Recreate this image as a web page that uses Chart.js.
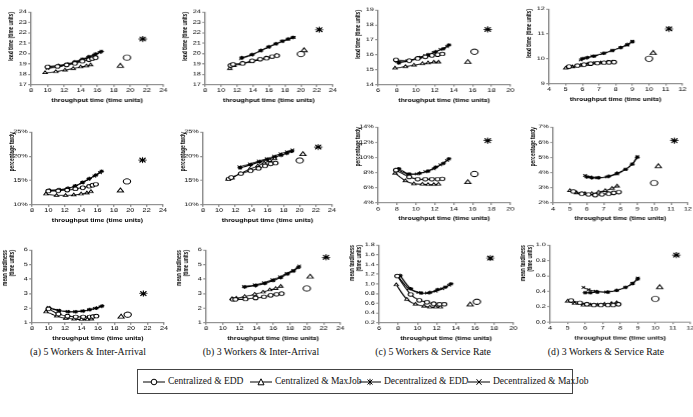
<!DOCTYPE html>
<html>
<head>
<meta charset="utf-8">
<script src="https://cdn.jsdelivr.net/npm/chart.js@4.4.1/dist/chart.umd.min.js"></script>
<style>
  body { margin: 0; background: #fff; width: 693px; height: 417px; overflow: hidden; position: relative; font-family: "Liberation Serif", serif; }
  .panel { position: absolute; transform-origin: 0 0; transform: scaleX(1.4); }
  .cap { position: absolute; top: 346px; font-size: 9.8px; line-height: 12px; white-space: nowrap; transform: translateX(-50%); color: #111; }
  .legend { position: absolute; left: 137px; top: 369px; width: 436px; height: 25px; border: 1px solid #444; box-sizing: border-box; }
  .item { position: absolute; top: 6px; font-size: 9.5px; line-height: 11px; display: flex; align-items: center; white-space: nowrap; color: #111; }
  .item svg { margin-right: 3px; }
</style>
</head>
<body>
<div class="cap" style="left:88px">(a) 5 Workers &amp; Inter-Arrival</div>
<div class="cap" style="left:261px">(b) 3 Workers &amp; Inter-Arrival</div>
<div class="cap" style="left:433px">(c) 5 Workers &amp; Service Rate</div>
<div class="cap" style="left:606px">(d) 3 Workers &amp; Service Rate</div>

<div class="legend">
  <div class="item" style="left:5px">
    <svg width="22" height="8"><line x1="0" y1="4" x2="22" y2="4" stroke="#000"/><circle cx="11" cy="4" r="2.8" fill="#fff" stroke="#000"/></svg>
    <span>Centralized &amp; EDD</span></div>
  <div class="item" style="left:112px">
    <svg width="22" height="8"><line x1="0" y1="4" x2="22" y2="4" stroke="#000"/><polygon points="11,0.8 14,6.8 8,6.8" fill="#fff" stroke="#000"/></svg>
    <span>Centralized &amp; MaxJob</span></div>
  <div class="item" style="left:221px">
    <svg width="22" height="8"><line x1="0" y1="4" x2="22" y2="4" stroke="#000"/><path d="M11 0.8V7.2M8.5 1.5L13.5 6.5M13.5 1.5L8.5 6.5" stroke="#000"/></svg>
    <span>Decentralized &amp; EDD</span></div>
  <div class="item" style="left:330px">
    <svg width="22" height="8"><line x1="0" y1="4" x2="22" y2="4" stroke="#000"/><path d="M8.5 1.2L13.5 6.8M13.5 1.2L8.5 6.8" stroke="#000"/></svg>
    <span>Decentralized &amp; MaxJob</span></div>
</div>

<script>
// throughput time (x) of each configuration, per column (a)-(d)
// series order: centralized EDD, centralized MaxJob, decentralized EDD, decentralized MaxJob
const tpA_cEdd = [10.0, 11.2, 12.3, 13.3, 14.2, 15.0, 15.4, 15.8];
const tpA_cMax = [9.7, 11.0, 12.1, 13.1, 14.0, 14.7, 15.2];
const tpA_dEdd = [10.1, 11.3, 12.4, 13.3, 14.2, 15.0, 15.8, 16.5];
const tpA_dMax = [10.0, 11.2, 12.3, 13.2, 14.1, 14.9, 15.6, 16.3];
const tpA_iso = [19.6, 18.8, 21.5, 21.5];

const tpB_cEdd = [11.2, 11.5, 12.7, 13.9, 14.9, 15.7, 16.4, 17.0];
const tpB_cMax = [11.1, 11.6, 12.6, 13.8, 14.8, 15.6, 16.3, 16.9];
const tpB_dEdd = [12.6, 13.9, 15.0, 16.0, 16.9, 17.7, 18.4, 19.0];
const tpB_dMax = [12.5, 13.8, 14.9, 15.9, 16.8, 17.6, 18.4, 19.1];
const tpB_iso = [20.0, 20.4, 22.3, 22.3];

const tpC_cEdd = [7.9, 9.3, 10.2, 11.0, 11.7, 12.3, 12.8];
const tpC_cMax = [7.8, 8.9, 9.8, 10.7, 11.3, 11.9, 12.4];
const tpC_dEdd = [8.2, 9.3, 10.4, 11.3, 12.1, 12.9, 13.5];
const tpC_dMax = [8.0, 9.1, 10.1, 11.0, 11.9, 12.6, 13.3];
const tpC_iso = [16.2, 15.5, 17.6, 17.6];

const tpD_cEdd = [5.2, 5.7, 6.1, 6.5, 6.9, 7.3, 7.6, 7.9];
const tpD_cMax = [5.0, 5.4, 5.9, 6.3, 6.7, 7.1, 7.5, 7.8];
const tpD_dEdd = [6.0, 6.3, 6.7, 7.3, 7.8, 8.3, 8.7, 9.0];
const tpD_dMax = [5.9, 6.2, 6.6, 7.2, 7.8, 8.3, 8.7, 9.0];
const tpD_iso = [10.0, 10.25, 11.2, 11.2];

// lead time
const leadA_cEdd = [18.7, 18.75, 18.9, 19.05, 19.25, 19.4, 19.5, 19.6];
const leadA_cMax = [18.15, 18.25, 18.4, 18.55, 18.7, 18.8, 18.9];
const leadA_dEdd = [18.75, 18.85, 19.0, 19.2, 19.45, 19.7, 19.95, 20.2];
const leadA_dMax = [18.55, 18.7, 18.9, 19.1, 19.35, 19.6, 19.85, 20.1];
const leadA_iso = [19.6, 18.8, 21.4, 21.4];

const leadB_cEdd = [18.85, 18.95, 19.05, 19.3, 19.45, 19.55, 19.7, 19.8];
const leadB_cMax = [18.55, 18.85, 19.0, 19.2, 19.4, 19.55, 19.65, 19.8];
const leadB_dEdd = [19.6, 19.9, 20.3, 20.65, 20.95, 21.2, 21.4, 21.55];
const leadB_dMax = [19.5, 19.85, 20.25, 20.6, 20.9, 21.15, 21.35, 21.55];
const leadB_iso = [19.95, 20.3, 22.3, 22.3];

const leadC_cEdd = [15.65, 15.6, 15.75, 15.85, 15.95, 16.0, 16.05];
const leadC_cMax = [15.1, 15.2, 15.3, 15.4, 15.45, 15.5, 15.5];
const leadC_dEdd = [15.45, 15.6, 15.8, 16.0, 16.2, 16.4, 16.65];
const leadC_dMax = [15.55, 15.6, 15.75, 15.95, 16.15, 16.35, 16.55];
const leadC_iso = [16.2, 15.5, 17.7, 17.7];

const leadD_cEdd = [9.68, 9.72, 9.76, 9.8, 9.82, 9.84, 9.85, 9.86];
const leadD_cMax = [9.62, 9.67, 9.73, 9.77, 9.81, 9.83, 9.85, 9.86];
const leadD_dEdd = [10.0, 10.05, 10.1, 10.22, 10.33, 10.45, 10.57, 10.68];
const leadD_dMax = [9.95, 10.02, 10.1, 10.2, 10.33, 10.45, 10.55, 10.7];
const leadD_iso = [10.0, 10.22, 11.2, 11.2];

// percentage tardy (%)
const pctA_cEdd = [12.8, 12.85, 13.0, 13.25, 13.5, 13.8, 14.0, 14.2];
const pctA_cMax = [12.2, 11.9, 11.9, 12.0, 12.2, 12.4, 12.7];
const pctA_dEdd = [13.0, 13.1, 13.4, 13.9, 14.6, 15.4, 16.1, 16.9];
const pctA_dMax = [12.9, 13.0, 13.3, 13.8, 14.5, 15.2, 15.9, 16.6];
const pctA_iso = [14.8, 12.9, 19.2, 19.2];

const pctB_cEdd = [15.3, 15.6, 16.4, 17.0, 17.5, 18.0, 18.4, 18.6];
const pctB_cMax = [15.2, 15.5, 16.4, 17.3, 18.0, 18.6, 19.1, 19.5];
const pctB_dEdd = [17.6, 18.2, 18.8, 19.3, 19.8, 20.2, 20.6, 21.0];
const pctB_dMax = [17.8, 18.4, 19.0, 19.5, 20.0, 20.5, 20.9, 21.3];
const pctB_iso = [19.1, 20.4, 21.9, 21.9];

const pctC_cEdd = [8.3, 7.4, 7.1, 7.1, 7.1, 7.1, 7.15];
const pctC_cMax = [7.9, 6.9, 6.5, 6.45, 6.4, 6.4, 6.45];
const pctC_dEdd = [8.5, 7.8, 7.9, 8.2, 8.7, 9.2, 9.8];
const pctC_dMax = [8.4, 7.8, 7.8, 8.1, 8.5, 9.0, 9.6];
const pctC_iso = [7.8, 6.7, 12.2, 12.2];

const pctD_cEdd = [2.75, 2.6, 2.55, 2.5, 2.55, 2.6, 2.65, 2.7];
const pctD_cMax = [2.8, 2.65, 2.6, 2.6, 2.7, 2.8, 2.95, 3.1];
const pctD_dEdd = [3.7, 3.65, 3.65, 3.75, 3.95, 4.2, 4.55, 5.0];
const pctD_dMax = [3.8, 3.7, 3.65, 3.7, 3.9, 4.2, 4.55, 5.05];
const pctD_iso = [3.3, 4.4, 6.1, 6.1];

// mean tardiness
const tardA_cEdd = [1.95, 1.6, 1.45, 1.4, 1.4, 1.4, 1.42, 1.45];
const tardA_cMax = [1.75, 1.45, 1.3, 1.25, 1.22, 1.22, 1.25];
const tardA_dEdd = [2.0, 1.82, 1.75, 1.75, 1.8, 1.9, 2.0, 2.15];
const tardA_dMax = [2.05, 1.85, 1.77, 1.76, 1.8, 1.88, 1.98, 2.1];
const tardA_iso = [1.55, 1.4, 3.0, 3.0];

const tardB_cEdd = [2.6, 2.6, 2.62, 2.7, 2.78, 2.88, 2.95, 3.0];
const tardB_cMax = [2.65, 2.68, 2.8, 2.95, 3.1, 3.25, 3.35, 3.5];
const tardB_dEdd = [3.45, 3.55, 3.7, 3.9, 4.1, 4.35, 4.55, 4.8];
const tardB_dMax = [3.5, 3.6, 3.75, 3.95, 4.15, 4.4, 4.6, 4.9];
const tardB_iso = [3.35, 4.15, 5.5, 5.5];

const tardC_cEdd = [1.16, 0.78, 0.66, 0.62, 0.59, 0.58, 0.58];
const tardC_cMax = [0.98, 0.68, 0.58, 0.54, 0.52, 0.52, 0.52];
const tardC_dEdd = [1.17, 0.9, 0.81, 0.82, 0.88, 0.93, 1.0];
const tardC_dMax = [1.15, 0.9, 0.82, 0.81, 0.85, 0.9, 0.97];
const tardC_iso = [0.63, 0.57, 1.53, 1.53];

const tardD_cEdd = [0.28, 0.25, 0.23, 0.22, 0.22, 0.22, 0.22, 0.23];
const tardD_cMax = [0.27, 0.24, 0.22, 0.22, 0.22, 0.23, 0.24, 0.25];
const tardD_dEdd = [0.38, 0.38, 0.39, 0.39, 0.41, 0.45, 0.5, 0.56];
const tardD_dMax = [0.45, 0.42, 0.4, 0.39, 0.41, 0.45, 0.5, 0.57];
const tardD_iso = [0.3, 0.45, 0.87, 0.87];

const leadTitle = 'lead time (time units)';
const pctTitle = 'percentage tardy';
const tardTitle = ['mean tardiness', '(time units)'];

const S = 1.4;          // the panels are stretched horizontally
const FONT = 'Liberation Sans';

const seriesStyle = [
    { pointStyle: 'circle', fill: '#fff' },
    { pointStyle: 'triangle', fill: '#fff' },
    { pointStyle: 'star', fill: '#000' },
    { pointStyle: 'crossRot', fill: '#000' }
];

const colA = [tpA_cEdd, tpA_cMax, tpA_dEdd, tpA_dMax];
const colB = [tpB_cEdd, tpB_cMax, tpB_dEdd, tpB_dMax];
const colC = [tpC_cEdd, tpC_cMax, tpC_dEdd, tpC_dMax];
const colD = [tpD_cEdd, tpD_cMax, tpD_dEdd, tpD_dMax];

const panels = [
    { box: [31, 12, 163, 84], x: colA, xi: tpA_iso, y: [leadA_cEdd, leadA_cMax, leadA_dEdd, leadA_dMax], yi: leadA_iso, xr: [8, 24, 2], yr: [17, 24, 1], title: leadTitle, fmt: 'int' },
    { box: [205, 12, 332, 84], x: colB, xi: tpB_iso, y: [leadB_cEdd, leadB_cMax, leadB_dEdd, leadB_dMax], yi: leadB_iso, xr: [8, 24, 2], yr: [17, 24, 1], title: leadTitle, fmt: 'int' },
    { box: [378, 10, 510, 84], x: colC, xi: tpC_iso, y: [leadC_cEdd, leadC_cMax, leadC_dEdd, leadC_dMax], yi: leadC_iso, xr: [6, 20, 2], yr: [14, 19, 1], title: leadTitle, fmt: 'int' },
    { box: [549, 9, 682, 83], x: colD, xi: tpD_iso, y: [leadD_cEdd, leadD_cMax, leadD_dEdd, leadD_dMax], yi: leadD_iso, xr: [4, 12, 1], yr: [9, 12, 1], title: leadTitle, fmt: 'int' },

    { box: [32, 132, 163, 204], x: colA, xi: tpA_iso, y: [pctA_cEdd, pctA_cMax, pctA_dEdd, pctA_dMax], yi: pctA_iso, xr: [8, 24, 2], yr: [10, 25, 5], title: pctTitle, fmt: 'pct' },
    { box: [203, 132, 332, 204], x: colB, xi: tpB_iso, y: [pctB_cEdd, pctB_cMax, pctB_dEdd, pctB_dMax], yi: pctB_iso, xr: [8, 24, 2], yr: [10, 25, 5], title: pctTitle, fmt: 'pct' },
    { box: [378, 127, 510, 202], x: colC, xi: tpC_iso, y: [pctC_cEdd, pctC_cMax, pctC_dEdd, pctC_dMax], yi: pctC_iso, xr: [6, 20, 2], yr: [4, 14, 2], title: pctTitle, fmt: 'pct' },
    { box: [553, 127, 687, 202], x: colD, xi: tpD_iso, y: [pctD_cEdd, pctD_cMax, pctD_dEdd, pctD_dMax], yi: pctD_iso, xr: [4, 12, 1], yr: [2, 7, 1], title: pctTitle, fmt: 'pct' },

    { box: [32, 250, 164, 322], x: colA, xi: tpA_iso, y: [tardA_cEdd, tardA_cMax, tardA_dEdd, tardA_dMax], yi: tardA_iso, xr: [8, 24, 2], yr: [1, 6, 1], title: tardTitle, fmt: 'int' },
    { box: [206, 250, 340, 322], x: colB, xi: tpB_iso, y: [tardB_cEdd, tardB_cMax, tardB_dEdd, tardB_dMax], yi: tardB_iso, xr: [8, 24, 2], yr: [1, 6, 1], title: tardTitle, fmt: 'int' },
    { box: [379, 245, 513, 322], x: colC, xi: tpC_iso, y: [tardC_cEdd, tardC_cMax, tardC_dEdd, tardC_dMax], yi: tardC_iso, xr: [6, 20, 2], yr: [0.2, 1.8, 0.2], title: tardTitle, fmt: 'dec' },
    { box: [550, 245, 690, 321], x: colD, xi: tpD_iso, y: [tardD_cEdd, tardD_cMax, tardD_dEdd, tardD_dMax], yi: tardD_iso, xr: [4, 12, 1], yr: [0, 1, 0.2], title: tardTitle, fmt: 'dec' }
];

function formatTick(fmt, v) {
    if (fmt === 'pct') return Math.round(v) + '%';
    if (fmt === 'dec') return v.toFixed(1);
    return String(Math.round(v));
}

function buildDatasets(p) {
    return p.x.map((xs, s) => {
        const data = xs.map((xv, i) => ({ x: xv, y: p.y[s][i] }));
        // break the line, then the lone point of this series
        data.push({ x: p.xi[s], y: null });
        data.push({ x: p.xi[s], y: p.yi[s] });
        const last = data.length - 1;
        return {
            data: data,
            borderColor: '#000',
            borderWidth: 0.9,
            pointStyle: seriesStyle[s].pointStyle,
            pointBackgroundColor: seriesStyle[s].fill,
            pointBorderColor: '#000',
            pointBorderWidth: 0.8,
            pointRadius: (ctx) => ctx.dataIndex === last ? (s > 1 ? 3 : 2.6) : 1.8,
            tension: 0.35,
            spanGaps: false,
            fill: false
        };
    });
}

function addPanel(p) {
    const [l, t, r, b] = p.box;
    const yw = Array.isArray(p.title) ? 30 : 24;   // screen px left of plot
    const padT = 6, padR = 5, xh = 19.5;
    const cw = Math.ceil((yw + (r - l) + padR) / S);
    const ch = Math.round(b - t + padT + xh);
    const padRight = cw - yw / S - (r - l) / S;

    const wrap = document.createElement('div');
    wrap.className = 'panel';
    wrap.style.left = (l - yw) + 'px';
    wrap.style.top = (t - padT) + 'px';
    wrap.style.width = cw + 'px';
    wrap.style.height = ch + 'px';
    const canvas = document.createElement('canvas');
    canvas.width = cw;
    canvas.height = ch;
    wrap.appendChild(canvas);
    document.body.appendChild(wrap);

    const tickFont = { family: FONT, size: 5.2 };
    const titleFont = { family: FONT, size: 4.9, weight: 'bold', lineHeight: 1.0 };

    new Chart(canvas, {
        type: 'line',
        data: { datasets: buildDatasets(p) },
        options: {
            responsive: false,
            animation: false,
            devicePixelRatio: 1.4,
            layout: { autoPadding: false, padding: { top: padT, right: padRight, left: 0, bottom: 0 } },
            plugins: { legend: { display: false }, tooltip: { enabled: false } },
            scales: {
                x: {
                    type: 'linear',
                    min: p.xr[0],
                    max: p.xr[1],
                    ticks: { stepSize: p.xr[2], font: tickFont, color: '#000', padding: 1, maxRotation: 0, autoSkip: false },
                    grid: { drawOnChartArea: false, tickLength: 2, color: '#888' },
                    border: { color: '#888', width: 1 },
                    title: { display: true, text: 'throughput time (time units)', font: titleFont, color: '#000', padding: { top: 0, bottom: 1 } },
                    afterFit: (scale) => { scale.height = xh; }
                },
                y: {
                    type: 'linear',
                    min: p.yr[0],
                    max: p.yr[1],
                    ticks: {
                        stepSize: p.yr[2], font: tickFont, color: '#000', padding: 1, autoSkip: false,
                        callback: (v) => formatTick(p.fmt, v)
                    },
                    grid: { drawOnChartArea: false, tickLength: 2, color: '#888' },
                    border: { color: '#888', width: 1 },
                    title: { display: true, text: p.title, align: 'end', font: titleFont, color: '#000', padding: { top: Array.isArray(p.title) ? 0 : 0.5, bottom: 0 } },
                    afterFit: (scale) => { scale.width = yw / S; }
                }
            }
        }
    });
}

panels.forEach(addPanel);
</script>
</body>
</html>
